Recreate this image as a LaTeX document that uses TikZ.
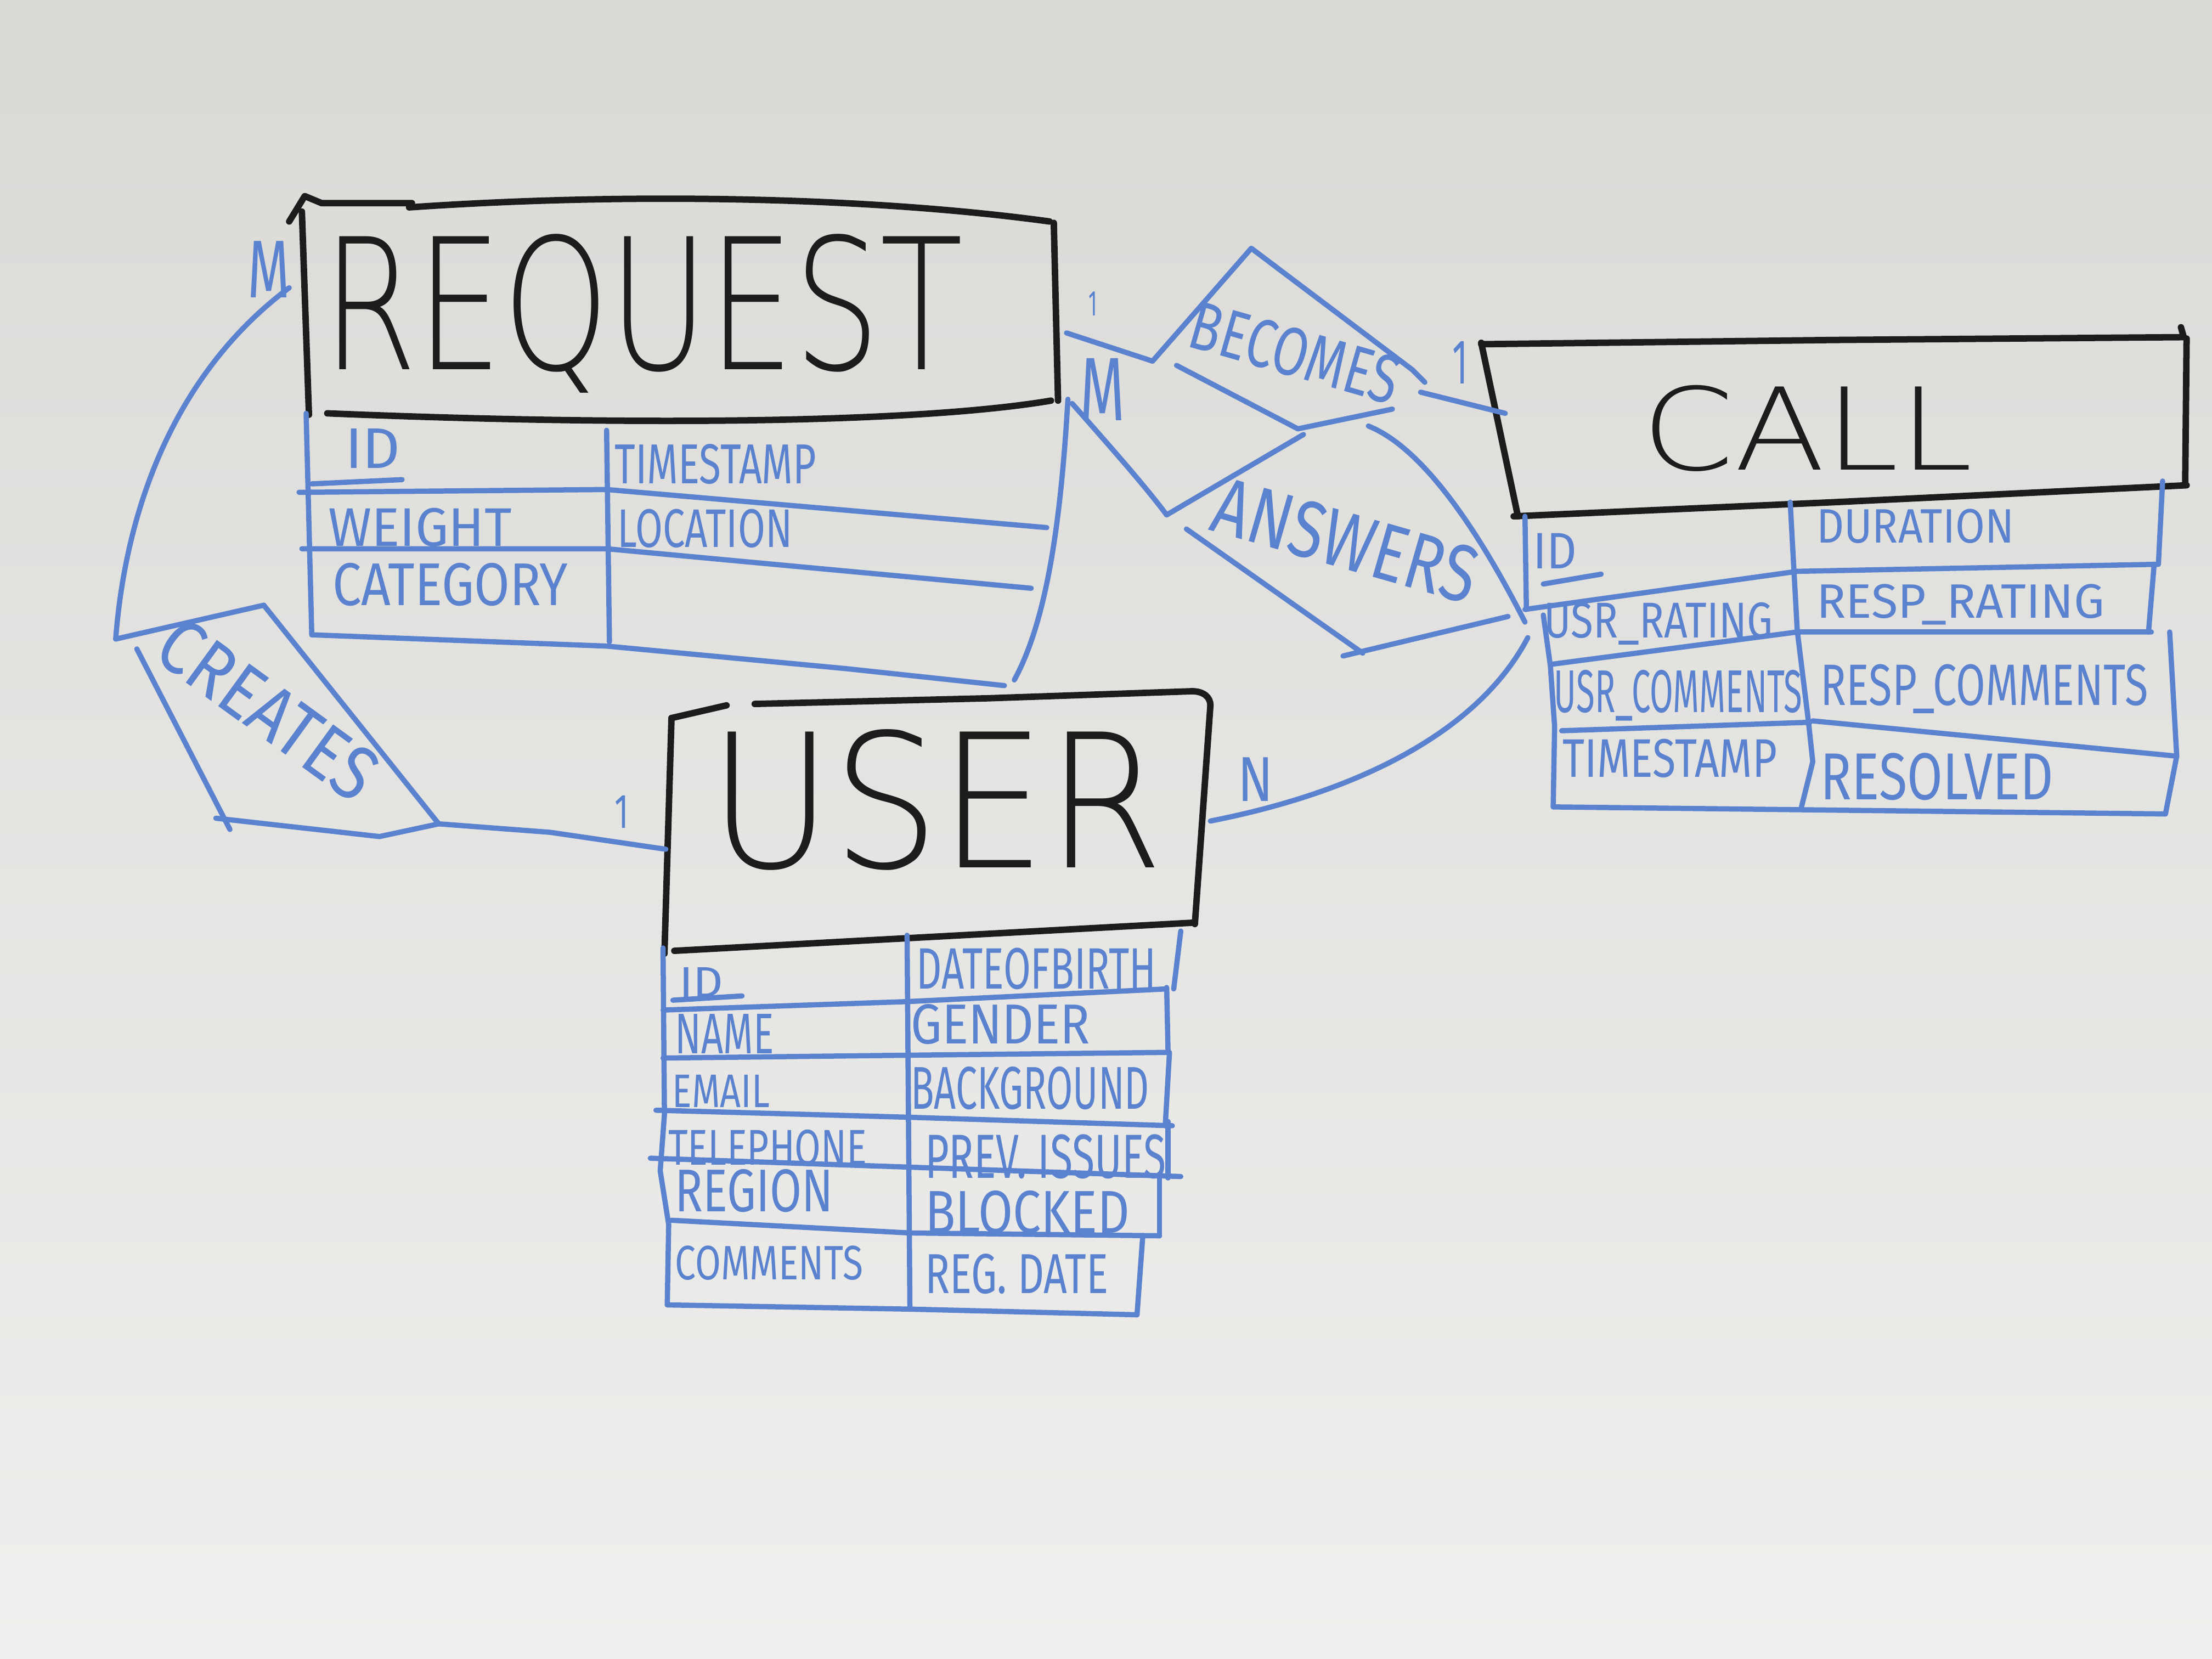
\documentclass[tikz,border=0pt]{standalone}
\usepackage{fontspec}
\usepackage{graphicx}
\setmainfont{Fira Sans}
\IfFontExistsTF{DejaVuSans-ExtraLight.ttf}{\newfontfamily\thinf{DejaVuSans-ExtraLight.ttf}}{\newfontfamily\thinf{DejaVu Sans}}
\newlength\pxu \setlength\pxu{0.01cm}
\newcommand\fitt[3]{\resizebox{#1\pxu}{#2\pxu}{#3}}
\definecolor{mblue}{HTML}{5A82CF}
\definecolor{mblack}{HTML}{1C1C1C}
\definecolor{wbA}{HTML}{DAD9D6}
\definecolor{wbB}{HTML}{E7E6E4}
\definecolor{wbC}{HTML}{EFEFED}
\begin{document}
\begin{tikzpicture}[x=0.01cm,y=-0.01cm,line cap=round,line join=round,
  bl/.style={draw=mblue,line width=1.05pt},
  bk/.style={draw=mblack,line width=1.3pt},
  att/.style={inner sep=0pt,text=mblue,anchor=base west},
  ttl/.style={inner sep=0pt,text=mblack,anchor=base west,font=\thinf},
  rel/.style={inner sep=0pt,text=mblue,anchor=center},
  card/.style={inner sep=0pt,text=mblue,anchor=base west}]
\useasboundingbox (0,0) rectangle (1568,1176);
\shade[top color=wbA,middle color=wbB,bottom color=wbC] (0,0) rectangle (1568,1176);

% ---------------- REQUEST ----------------
\draw[bk] (205,157) -- (216,139) -- (228,144) -- (292,144);
\draw[bk] (290,147) .. controls (450,136) and (620,140) .. (744,157);
\draw[bk] (214,150) -- (219,294);
\draw[bk] (747,158) -- (750,284);
\draw[bk] (232,293) .. controls (450,302) and (650,300) .. (745,284);
\node[ttl] (request) at (228,262) {\fitt{454}{96}{REQUEST}};
% table
\draw[bl] (217,293) -- (221,450);
\draw[bl] (430,305) -- (432,455);
\draw[bl] (212,349) -- (430,347) -- (742,374);
\draw[bl] (214,389) -- (430,389) -- (731,417);
\draw[bl] (221,343) -- (285,340);
\draw[bl] (757,283) .. controls (752,370) and (742,440) .. (719,482);
\draw[bl] (221,450) -- (430,458) -- (600,474) -- (712,486);
\node[att] (r-id)  at (244,332) {\fitt{39}{28}{ID}};
\node[att] (r-ts)  at (435,343) {\fitt{143}{28}{TIMESTAMP}};
\node[att] (r-w)   at (232,387) {\fitt{130}{27}{WEIGHT}};
\node[att] (r-loc) at (437,388) {\fitt{124}{27}{LOCATION}};
\node[att] (r-cat) at (235,429) {\fitt{167}{30}{CATEGORY}};

% ---------------- CALL ----------------
\draw[bk] (1050,244) -- (1300,241) -- (1548,239) -- (1546,232);
\draw[bk] (1550,240) -- (1549,343);
\draw[bk] (1073,366) -- (1300,356) -- (1550,344);
\draw[bk] (1050,243) -- (1076,366);
\node[ttl] (call) at (1163,333) {\fitt{235}{60}{CALL}};
% table
\draw[bl] (1081,366) -- (1082,432);
\draw[bl] (1094,436) -- (1099,472) -- (1102,515) -- (1101,572);
\draw[bl] (1269,356) -- (1274,447) -- (1282,512) -- (1285,540) -- (1277,572);
\draw[bl] (1533,341) -- (1530,400);
\draw[bl] (1527,400) -- (1523,448);
\draw[bl] (1538,448) -- (1543,536) -- (1535,577);
\draw[bl] (1081,432) -- (1274,405) -- (1530,400);
\draw[bl] (1099,471) -- (1274,448) -- (1525,448);
\draw[bl] (1107,518) -- (1283,512);
\draw[bl] (1285,511) -- (1543,536);
\draw[bl] (1101,572) -- (1277,574) -- (1535,577);
\draw[bl] (1094,414) -- (1135,407);
\node[att] (c-id)   at (1086,403) {\fitt{31}{25}{ID}};
\node[att] (c-dur)  at (1287,385) {\fitt{140}{24}{DURATION}};
\node[att] (c-ur)   at (1094,452) {\fitt{162}{25}{USR\_RATING}};
\node[att] (c-rr)   at (1287,438) {\fitt{204}{24}{RESP\_RATING}};
\node[att] (c-uc)   at (1101,505) {\fitt{176}{30}{USR\_COMMENTS}};
\node[att] (c-rc)   at (1290,500) {\fitt{232}{29}{RESP\_COMMENTS}};
\node[att] (c-ts)   at (1107,551) {\fitt{152}{27}{TIMESTAMP}};
\node[att] (c-res)  at (1290,567) {\fitt{165}{33}{RESOLVED}};

% ---------------- USER ----------------
\draw[bk] (476,509) -- (515,500);
\draw[bk] (535,499) -- (700,495) -- (845,490) .. controls (853,490) and (858,494) .. (858,500);
\draw[bk] (858,500) -- (847,655);
\draw[bk] (478,674) -- (847,654);
\draw[bk] (476,509) -- (471,676);
\node[ttl] (user) at (502,615) {\fitt{322}{98}{USER}};
% table
\draw[bl] (470,672) -- (471,790) -- (468,830) -- (474,868) -- (473,925);
\draw[bl] (643,663) -- (645,928);
\draw[bl] (837,660) -- (832,701);
\draw[bl] (827,700) -- (828,746);
\draw[bl] (829,746) -- (826,798);
\draw[bl] (828,795) -- (828,835);
\draw[bl] (822,835) -- (822,876);
\draw[bl] (810,877) -- (806,932);
\draw[bl] (470,716) -- (643,710) -- (827,701);
\draw[bl] (470,750) -- (645,748) -- (828,746);
\draw[bl] (465,787) -- (645,792) -- (831,798);
\draw[bl] (461,821) -- (837,834);
\draw[bl] (476,865) -- (645,874) -- (822,876);
\draw[bl] (473,925) -- (645,928) -- (806,932);
\draw[bl] (477,709) -- (526,706);
\node[att] (u-id)   at (481,707) {\fitt{31}{21}{ID}};
\node[att] (u-dob)  at (649,701) {\fitt{170}{29}{DATEOFBIRTH}};
\node[att] (u-name) at (478,747) {\fitt{70}{28}{NAME}};
\node[att] (u-gen)  at (645,740) {\fitt{127}{28}{GENDER}};
\node[att] (u-mail) at (476,785) {\fitt{69}{23}{EMAIL}};
\node[att] (u-bg)   at (645,786) {\fitt{169}{30}{BACKGROUND}};
\node[att] (u-tel)  at (473,826) {\fitt{141}{25}{TELEPHONE}};
\node[att] (u-prev) at (655,835) {\fitt{171}{31}{PREV. ISSUES}};
\node[att] (u-reg)  at (478,859) {\fitt{112}{30}{REGION}};
\node[att] (u-blk)  at (655,874) {\fitt{145}{30}{BLOCKED}};
\node[att] (u-com)  at (478,907) {\fitt{133}{24}{COMMENTS}};
\node[att] (u-rd)   at (655,917) {\fitt{130}{28}{REG. DATE}};

% ---------------- CREATES ----------------
\coordinate (cr-tl) at (82,453);
\coordinate (cr-tr) at (187,429);
\coordinate (cr-br) at (311,584);
\coordinate (cr-bl) at (153,580);
\draw[bl] (cr-tl) -- (cr-tr);
\draw[bl] (cr-tr) -- (cr-br);
\draw[bl] (cr-bl) -- (269,593) -- (cr-br);
\draw[bl] (97,460) -- (163,588);
\node[rel,rotate=-36] (creates) at (190,503) {\fitt{178}{38}{CREATES}};

% ---------------- BECOMES ----------------
\coordinate (be-t) at (887,176);
\coordinate (be-l) at (817,256);
\coordinate (be-r) at (1001,262);
\coordinate (be-b) at (920,304);
\draw[bl] (be-l) -- (be-t) -- (be-r) -- (1010,271);
\draw[bl] (834,259) -- (be-b) -- (987,290);
\node[rel,rotate=-16] (becomes) at (918,250) {\fitt{152}{34}{BECOMES}};

% ---------------- ANSWERS ----------------
\coordinate (an-l) at (827,365);
\coordinate (an-t) at (970,302);
\coordinate (an-r) at (1081,441);
\coordinate (an-b) at (966,463);
\draw[bl] (an-l) -- (924,308);
\draw[bl] (an-t) .. controls (1010,318) and (1050,380) .. (an-r);
\draw[bl] (841,375) -- (an-b);
\draw[bl] (952,465) -- (1069,437);
\node[rel,rotate=-16] (answers) at (954,383) {\fitt{192}{40}{ANSWERS}};

% ---------------- connectors ----------------
\coordinate (rq-left) at (205,204);
\coordinate (rq-r1) at (756,236);
\coordinate (rq-r2) at (760,286);
\coordinate (ca-l1) at (1067,293);
\coordinate (us-l) at (472,602);
\coordinate (us-r) at (858,582);
\coordinate (ca-l2) at (1083,452);
\draw[bl] (rq-left) .. controls (130,260) and (90,350) .. (cr-tl);
\draw[bl] (cr-br) -- (390,590) -- (us-l);
\draw[bl] (rq-r1) -- (be-l);
\draw[bl] (1007,278) -- (ca-l1);
\draw[bl] (rq-r2) .. controls (790,320) and (812,345) .. (an-l);
\draw[bl] (us-r) .. controls (970,560) and (1050,515) .. (ca-l2);

% cardinalities
\node[card] (m1) at (175,211) {\fitt{30}{40}{M}};
\node[card] (o1) at (771,224) {\fitt{6}{17}{1}};
\node[card] (m2) at (765,298) {\fitt{32}{44}{M}};
\node[card] (o2) at (1029,272) {\fitt{11}{30}{1}};
\node[card] (o3) at (435,587) {\fitt{10}{23}{1}};
\node[card] (n1) at (877,568) {\fitt{25}{31}{N}};
\end{tikzpicture}
\end{document}
